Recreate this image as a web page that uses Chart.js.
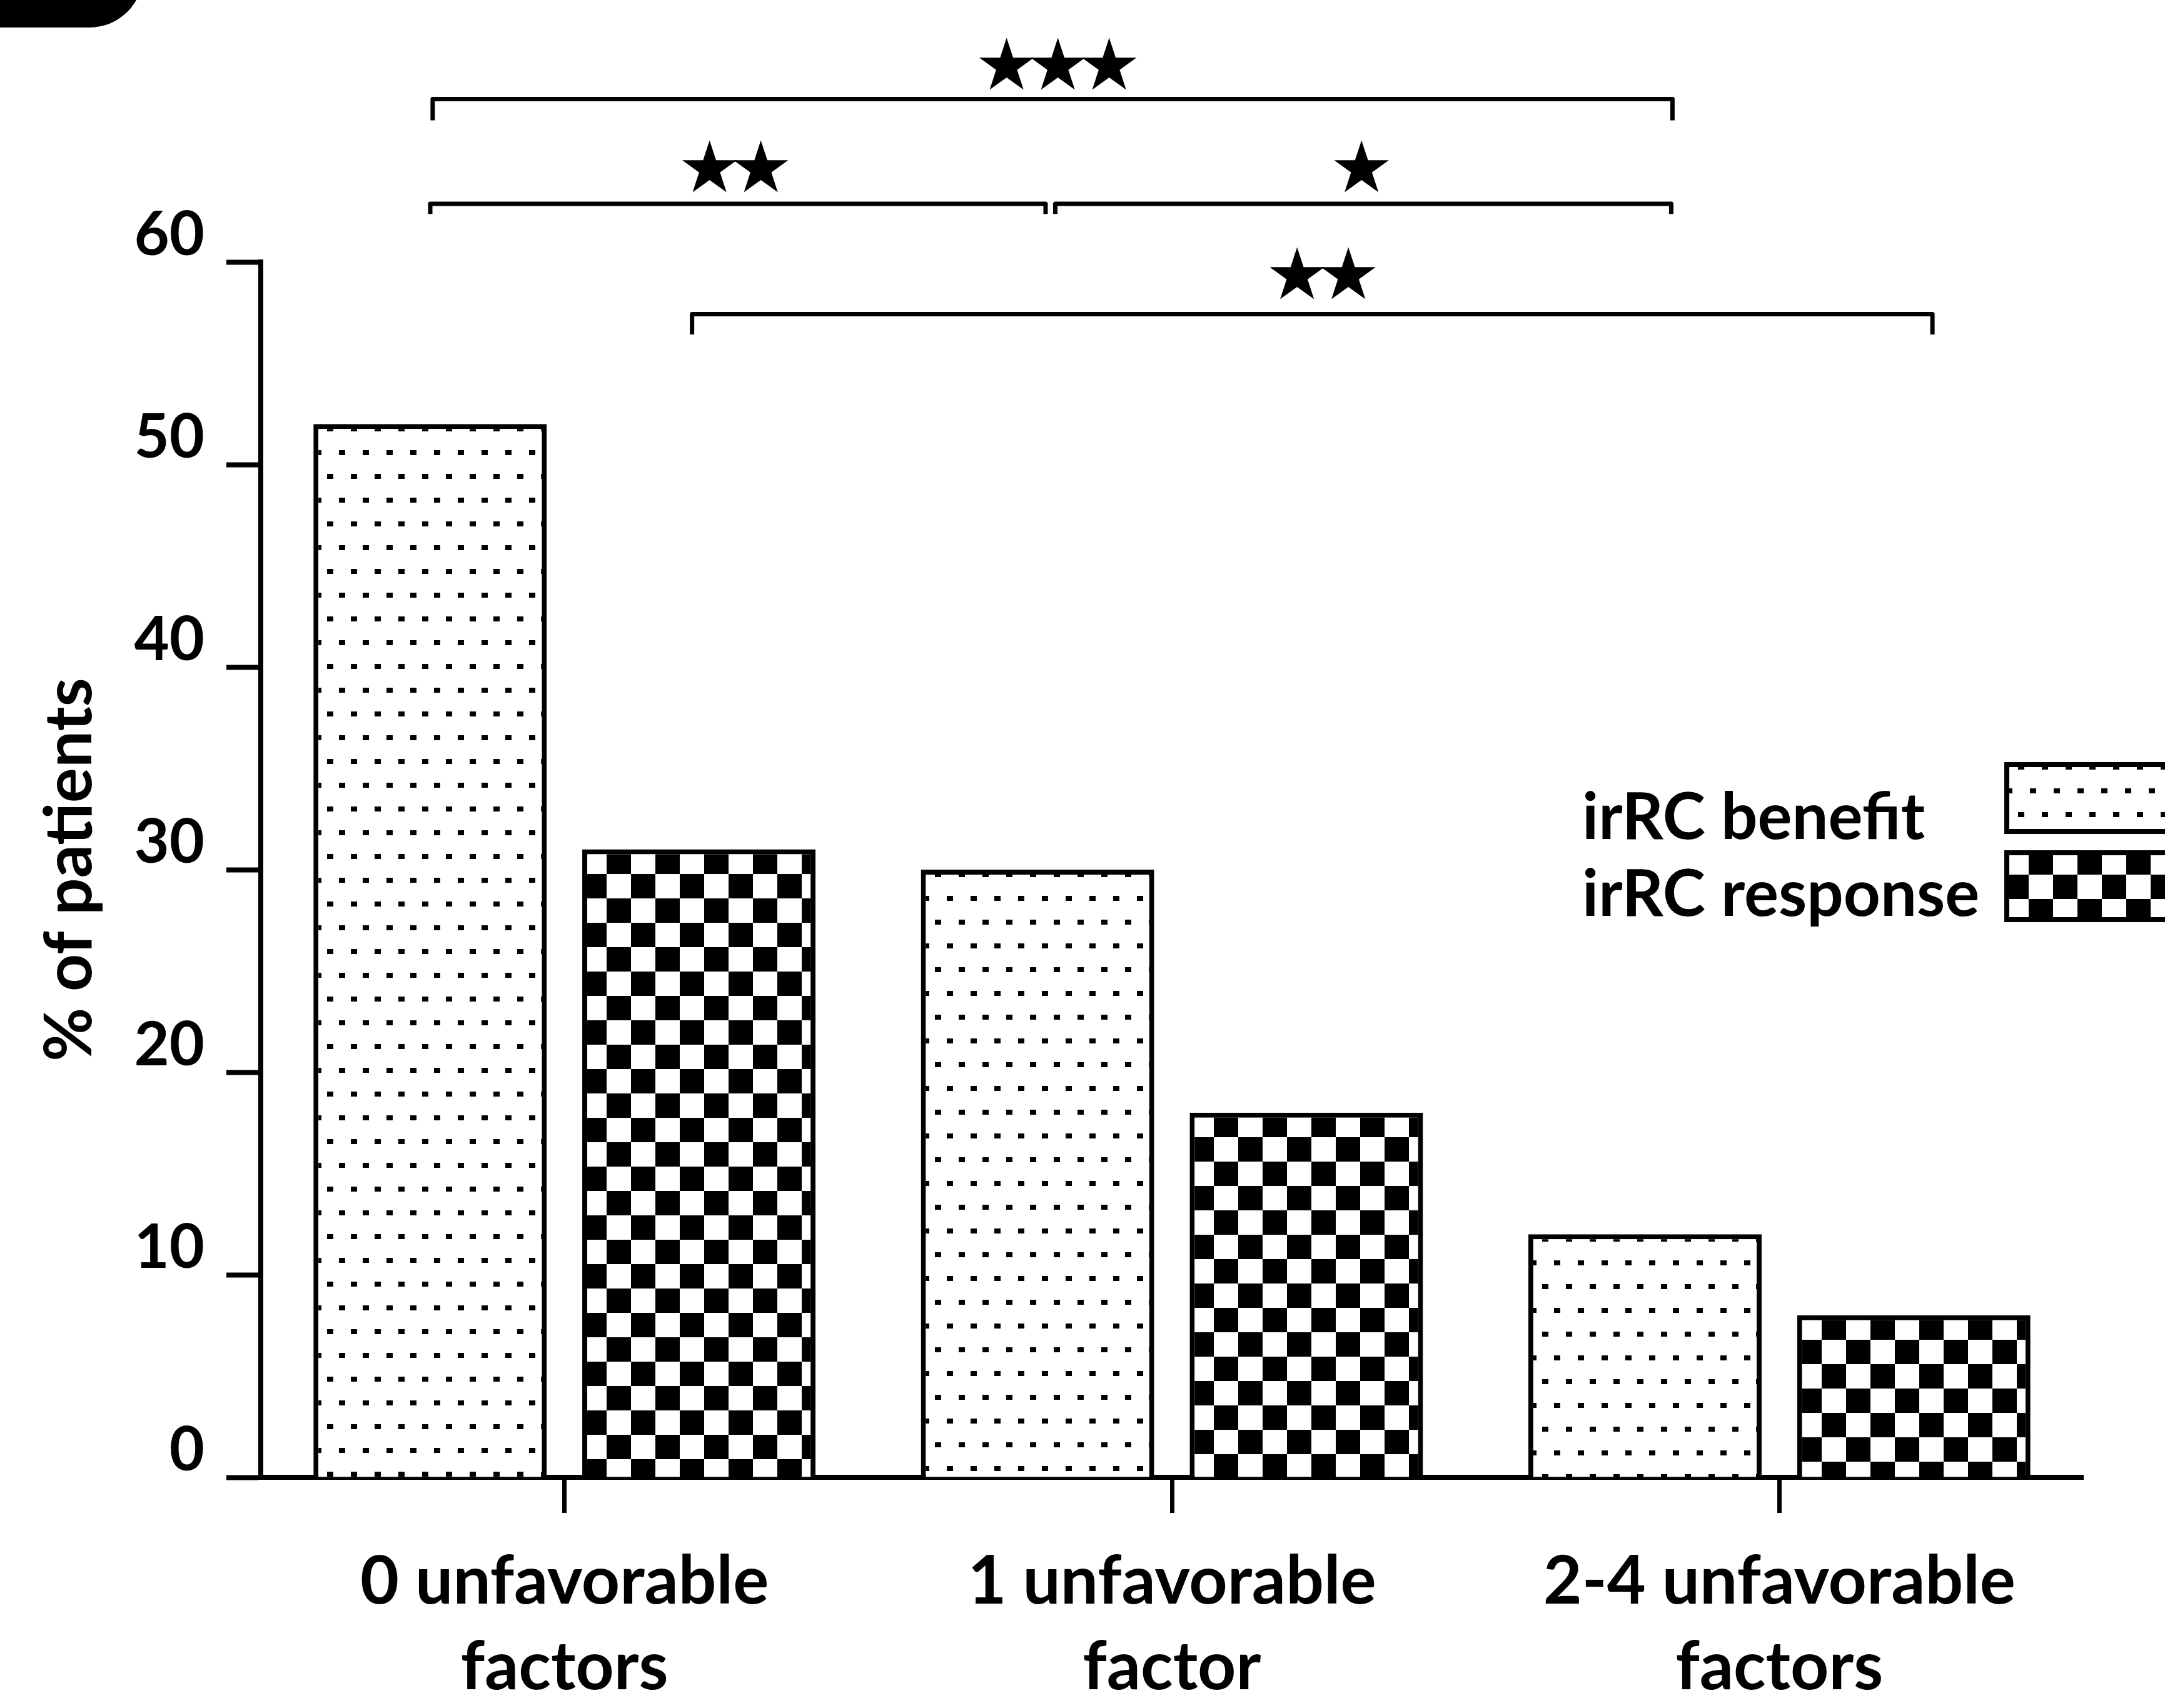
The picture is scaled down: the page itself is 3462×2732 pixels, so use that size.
<!DOCTYPE html>
<html>
<head>
<meta charset="utf-8">
<title>% of patients by unfavorable factors</title>
<script src="https://cdn.jsdelivr.net/npm/chart.js@4/dist/chart.umd.min.js"></script>
<style>
  html, body { margin: 0; padding: 0; background: #ffffff; }
  canvas { display: block; }
</style>
</head>
<body>
<canvas id="chart" width="3462" height="2732"></canvas>
<script>
// ---- data ----
const categories = [
  ['0 unfavorable', 'factors'],
  ['1 unfavorable', 'factor'],
  ['2-4 unfavorable', 'factors']
];
const seriesNames = ['irRC benefit', 'irRC response'];
const benefitValues = [52, 30, 12];
const responseValues = [31, 18, 8];
const yTickValues = [0, 10, 20, 30, 40, 50, 60];

// significance brackets: x in category units, y in % units
const bracketFrom  = [-0.217, -0.221, 0.808, 0.210];
const bracketTo    = [1.824, 0.792, 1.822, 2.252];
const bracketLevel = [68.04, 62.87, 62.87, 57.42];
const bracketDrop  = [1.05, 0.5, 0.5, 1.0];
const starLabels   = ['★★★', '★★', '★', '★★'];
const starX        = [0.812, 0.281, 1.312, 1.248];
const starY        = [69.79, 64.73, 64.73, 59.45];

// ---- styling ----
const FONT = 'Lato';
const INK = '#000000';
const BAR_BORDER = 8;

// fill tiles: staggered dots and a checkerboard
function makeDotTile() {
  const c = document.createElement('canvas');
  c.width = 38; c.height = 76;
  const g = c.getContext('2d');
  g.fillStyle = '#ffffff'; g.fillRect(0, 0, 38, 76);
  g.fillStyle = INK;
  g.fillRect(4, 5, 10, 8);
  g.fillRect(23, 43, 10, 8);
  return c;
}
function makeCheckerTile() {
  const c = document.createElement('canvas');
  c.width = 78; c.height = 78;
  const g = c.getContext('2d');
  g.fillStyle = '#ffffff'; g.fillRect(0, 0, 78, 78);
  g.fillStyle = INK;
  g.fillRect(39, 0, 39, 39);
  g.fillRect(0, 39, 39, 39);
  return c;
}
const tiles = [makeDotTile(), makeCheckerTile()];

// pattern whose phase starts at a box's top-left corner
function anchoredPattern(ctx, kind, left, top) {
  const p = ctx.createPattern(tiles[kind], 'repeat');
  let ox, oy;
  if (kind === 0) { ox = left + BAR_BORDER - 9; oy = top + BAR_BORDER + 29; }
  else { ox = left; oy = top; }
  p.setTransform(new DOMMatrix().translate(Math.round(ox), Math.round(oy)));
  return p;
}

const patternFill = {
  id: 'patternFill',
  beforeDatasetsDraw(chart) {
    chart.data.datasets.forEach((ds, i) => {
      const meta = chart.getDatasetMeta(i);
      meta.data.forEach(el => {
        const p = el.getProps(['x', 'y', 'width'], true);
        el.options.backgroundColor = anchoredPattern(chart.ctx, i, p.x - p.width / 2, p.y);
      });
    });
  }
};

// black panel tab in the top-left corner
const cornerTab = {
  id: 'cornerTab',
  beforeDraw(chart) {
    const ctx = chart.ctx;
    ctx.save();
    ctx.fillStyle = INK;
    ctx.beginPath();
    ctx.roundRect(-300, -300, 529, 344, 86);
    ctx.fill();
    ctx.restore();
  }
};

// significance brackets with star labels
const significance = {
  id: 'significance',
  afterDatasetsDraw(chart) {
    const ctx = chart.ctx;
    const xs = chart.scales.x, ys = chart.scales.y;
    ctx.save();
    ctx.strokeStyle = INK;
    ctx.lineWidth = 7;
    ctx.lineJoin = 'round';
    ctx.lineCap = 'butt';
    for (let i = 0; i < bracketFrom.length; i++) {
      const x1 = xs.getPixelForValue(bracketFrom[i]);
      const x2 = xs.getPixelForValue(bracketTo[i]);
      const yl = ys.getPixelForValue(bracketLevel[i]);
      const yd = ys.getPixelForValue(bracketLevel[i] - bracketDrop[i]);
      ctx.beginPath();
      ctx.moveTo(x1, yd);
      ctx.lineTo(x1, yl);
      ctx.lineTo(x2, yl);
      ctx.lineTo(x2, yd);
      ctx.stroke();
    }
    // stars
    ctx.font = '100px "DejaVu Sans"';
    const m0 = ctx.measureText('★');
    const w0 = m0.actualBoundingBoxLeft + m0.actualBoundingBoxRight;
    const size = 100 * 89 / w0;
    ctx.font = size + 'px "DejaVu Sans"';
    const m = ctx.measureText('★');
    ctx.fillStyle = INK;
    ctx.textAlign = 'left';
    ctx.textBaseline = 'alphabetic';
    const step = 82;
    for (let i = 0; i < starLabels.length; i++) {
      const chars = Array.from(starLabels[i]);
      const cx = xs.getPixelForValue(starX[i]);
      const cy = ys.getPixelForValue(starY[i]);
      chars.forEach((ch, k) => {
        const sx = cx + (k - (chars.length - 1) / 2) * step;
        const x = sx - (m.actualBoundingBoxRight - m.actualBoundingBoxLeft) / 2;
        const y = cy + (m.actualBoundingBoxAscent - m.actualBoundingBoxDescent) / 2;
        ctx.fillText(ch, x, y);
      });
    }
    ctx.restore();
  }
};

// legend: labels on the left, swatches running off the right edge
const sideLegend = {
  id: 'sideLegend',
  afterDraw(chart) {
    const ctx = chart.ctx;
    ctx.save();
    ctx.font = 'bold 103px ' + FONT;
    ctx.fillStyle = INK;
    ctx.textAlign = 'left';
    ctx.textBaseline = 'alphabetic';
    const baselines = [1342, 1465];
    const boxTops = [1219, 1360];
    const boxLeft = 3205, boxW = 400, boxH = 115;
    chart.data.datasets.forEach((ds, i) => {
      ctx.fillText(ds.label, 2530, baselines[i]);
      ctx.fillStyle = INK;
      ctx.fillRect(boxLeft, boxTops[i], boxW, boxH);
      ctx.fillStyle = anchoredPattern(ctx, i, boxLeft, boxTops[i]);
      ctx.fillRect(boxLeft + BAR_BORDER, boxTops[i] + BAR_BORDER, boxW - 2 * BAR_BORDER, boxH - 2 * BAR_BORDER);
      ctx.fillStyle = INK;
    });
    ctx.restore();
  }
};

function draw() {
  const ctx = document.getElementById('chart').getContext('2d');
  new Chart(ctx, {
    type: 'bar',
    data: {
      labels: categories,
      datasets: [
        { label: seriesNames[0], data: benefitValues, backgroundColor: () => '#ffffff' },
        { label: seriesNames[1], data: responseValues, backgroundColor: () => '#ffffff' }
      ]
    },
    options: {
      responsive: false,
      animation: false,
      devicePixelRatio: 1,
      layout: { padding: { top: 419, right: 131, bottom: 0, left: 0 } },
      datasets: {
        bar: {
          categoryPercentage: 0.885,
          barPercentage: 0.868,
          borderColor: INK,
          borderWidth: BAR_BORDER
        }
      },
      plugins: {
        legend: { display: false },
        tooltip: { enabled: false }
      },
      scales: {
        x: {
          offset: true,
          grid: {
            display: true,
            drawOnChartArea: false,
            offset: false,
            tickLength: 57,
            tickWidth: 7,
            tickColor: INK
          },
          border: { display: true, width: 8, color: INK },
          ticks: {
            color: INK,
            font: { family: FONT, weight: 'bold', size: 107, lineHeight: 137 / 107 },
            padding: 42,
            maxRotation: 0,
            autoSkip: false
          },
          afterFit(scale) { scale.height = 2732 - 2363; }
        },
        y: {
          min: 0,
          max: 60,
          afterBuildTicks(scale) { scale.ticks = yTickValues.map(v => ({ value: v })); },
          grid: {
            display: true,
            drawOnChartArea: false,
            tickLength: 55,
            tickWidth: 8,
            tickColor: INK
          },
          border: { display: true, width: 8, color: INK },
          ticks: {
            color: INK,
            font: { family: FONT, weight: 'bold', size: 97 },
            padding: 35,
            labelOffset: -42
          },
          title: {
            display: true,
            text: '% of patients',
            color: INK,
            font: { family: FONT, weight: 'bold', size: 105 },
            padding: { top: 49, bottom: 0 }
          },
          afterFit(scale) { scale.width = 417; }
        }
      }
    },
    plugins: [cornerTab, patternFill, significance, sideLegend]
  });
}

if (document.fonts && document.fonts.load) {
  Promise.all([
    document.fonts.load('bold 100px Lato'),
    document.fonts.load('100px "DejaVu Sans"', '★')
  ]).then(draw, draw);
} else {
  draw();
}
</script>
</body>
</html>
